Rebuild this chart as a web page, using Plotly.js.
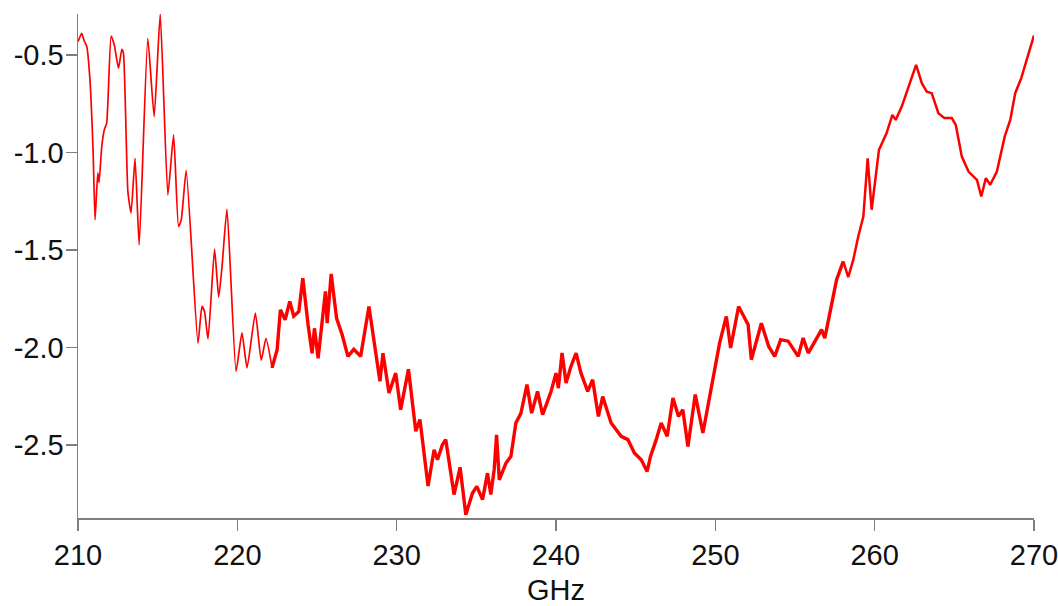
<!DOCTYPE html>
<html>
<head>
<meta charset="utf-8">
<script src="https://cdn.plot.ly/plotly-3.0.1.min.js"></script>
<style>html,body{margin:0;padding:0;background:#fff;}#chart{width:1058px;height:606px;}</style>
</head>
<body>
<div id="chart"></div>
<script>
// Segment 210–222 GHz (smooth, thin part of the trace)
const freqA = [210.0, 210.23, 210.4, 210.55, 210.75, 210.95, 211.07, 211.24, 211.32, 211.49, 211.65, 211.8, 212.08, 212.28, 212.54, 212.75, 212.85, 213.13, 213.33, 213.58, 213.84, 214.38, 214.78, 215.16, 215.64, 216.0, 216.31, 216.48, 216.79, 217.53, 217.78, 217.94, 218.16, 218.57, 218.83, 219.04, 219.35, 219.92, 220.29, 220.61, 221.13, 221.5, 221.8, 222.18];
const valA  = [-0.432, -0.389, -0.43, -0.457, -0.628, -1.0, -1.346, -1.105, -1.155, -0.97, -0.884, -0.85, -0.403, -0.449, -0.568, -0.471, -0.49, -1.20, -1.311, -1.03, -1.474, -0.415, -0.816, -0.29, -1.218, -0.91, -1.38, -1.346, -1.093, -1.978, -1.79, -1.816, -1.957, -1.496, -1.742, -1.585, -1.291, -2.123, -1.926, -2.105, -1.824, -2.066, -1.953, -2.105];

// Segment 222–258 GHz (noisy part)
const freqB = [222.18, 222.5, 222.7, 223.0, 223.29, 223.54, 223.86, 224.11, 224.44, 224.69, 224.84, 225.07, 225.53, 225.64, 225.89, 226.23, 226.58, 226.94, 227.31, 227.74, 228.26, 228.68, 228.95, 229.14, 229.52, 229.94, 230.25, 230.74, 231.2, 231.46, 231.97, 232.35, 232.56, 232.87, 233.08, 233.6, 233.98, 234.34, 234.76, 235.03, 235.39, 235.7, 235.91, 236.12, 236.27, 236.44, 236.86, 237.17, 237.48, 237.8, 238.18, 238.47, 238.84, 239.16, 239.69, 240.0, 240.15, 240.38, 240.63, 240.94, 241.26, 241.57, 241.99, 242.3, 242.66, 242.93, 243.46, 244.09, 244.51, 244.92, 245.35, 245.72, 245.93, 246.29, 246.6, 246.98, 247.34, 247.69, 247.96, 248.28, 248.74, 249.22, 249.75, 250.27, 250.69, 250.96, 251.46, 252.06, 252.26, 252.89, 253.35, 253.73, 254.1, 254.57, 255.2, 255.51, 255.83, 256.24, 256.67, 256.87, 257.61, 258.03];
const valB  = [-2.105, -2.01, -1.807, -1.858, -1.764, -1.84, -1.816, -1.645, -1.884, -2.03, -1.902, -2.056, -1.713, -1.876, -1.623, -1.851, -1.935, -2.046, -2.01, -2.046, -1.79, -2.01, -2.174, -2.03, -2.234, -2.132, -2.32, -2.112, -2.43, -2.37, -2.711, -2.525, -2.576, -2.499, -2.473, -2.755, -2.615, -2.858, -2.747, -2.713, -2.781, -2.645, -2.755, -2.627, -2.448, -2.679, -2.593, -2.559, -2.388, -2.337, -2.191, -2.337, -2.226, -2.345, -2.226, -2.132, -2.209, -2.029, -2.183, -2.097, -2.029, -2.132, -2.226, -2.166, -2.354, -2.252, -2.388, -2.456, -2.473, -2.542, -2.576, -2.636, -2.559, -2.473, -2.388, -2.456, -2.259, -2.354, -2.32, -2.508, -2.242, -2.439, -2.2, -1.977, -1.841, -2.003, -1.79, -1.884, -2.063, -1.876, -1.995, -2.046, -1.96, -1.968, -2.046, -1.952, -2.029, -1.968, -1.909, -1.952, -1.653, -1.559];

// Segment 258–270 GHz
const freqC = [258.03, 258.34, 258.66, 258.97, 259.29, 259.56, 259.81, 260.27, 260.75, 261.11, 261.32, 261.7, 262.6, 262.96, 263.27, 263.58, 264.0, 264.38, 264.84, 265.09, 265.47, 265.89, 266.42, 266.69, 266.98, 267.25, 267.67, 268.16, 268.51, 268.82, 269.2, 269.45, 270.0];
const valC  = [-1.559, -1.64, -1.55, -1.431, -1.329, -1.03, -1.294, -0.987, -0.901, -0.808, -0.833, -0.765, -0.551, -0.645, -0.688, -0.696, -0.799, -0.824, -0.824, -0.859, -1.021, -1.098, -1.141, -1.226, -1.132, -1.166, -1.098, -0.919, -0.833, -0.696, -0.619, -0.551, -0.40];

const xTickVals = [210, 220, 230, 240, 250, 260, 270];
const xTickText = ['210', '220', '230', '240', '250', '260', '270'];
const yTickVals = [-0.5, -1.0, -1.5, -2.0, -2.5];
const yTickText = ['-0.5', '-1.0', '-1.5', '-2.0', '-2.5'];
const xAxisTitle = 'GHz';

const red = 'rgb(255,0,0)';
const traces = [
  {x: freqA, y: valA, type: 'scatter', mode: 'lines', line: {color: red, width: 1.7, shape: 'spline', smoothing: 0.5}, hoverinfo: 'x+y'},
  {x: freqB, y: valB, type: 'scatter', mode: 'lines', line: {color: red, width: 3.4}, hoverinfo: 'x+y'},
  {x: freqC, y: valC, type: 'scatter', mode: 'lines', line: {color: red, width: 2.5}, hoverinfo: 'x+y'}
];

const axisFont = {family: '"Liberation Sans", Arial, sans-serif', size: 29, color: '#111'};
const layout = {
  width: 1058, height: 606,
  margin: {l: 78, r: 24, t: 14, b: 88},
  paper_bgcolor: '#fff', plot_bgcolor: '#fff',
  showlegend: false,
  font: axisFont,
  xaxis: {
    range: [210, 270], tickmode: 'array', tickvals: xTickVals, ticktext: xTickText,
    showgrid: false, zeroline: false, showline: true, linecolor: '#7f7f7f', linewidth: 1.5,
    ticks: 'outside', ticklen: 11, tickwidth: 1.5, tickcolor: '#7f7f7f',
    tickfont: axisFont, ticklabeloverflow: 'allow', automargin: false
  },
  yaxis: {
    range: [-2.875, -0.29], tickmode: 'array', tickvals: yTickVals, ticktext: yTickText,
    showgrid: false, zeroline: false, showline: true, linecolor: '#7f7f7f', linewidth: 1.5,
    ticks: 'outside', ticklen: 11, tickwidth: 1.5, tickcolor: '#7f7f7f',
    tickfont: axisFont, ticklabelstandoff: -4, ticklabeloverflow: 'allow', automargin: false
  },
  annotations: [{
    text: xAxisTitle, xref: 'paper', yref: 'paper', x: 0.5, y: 0,
    xanchor: 'center', yanchor: 'top', yshift: -55, borderpad: 0, showarrow: false, font: axisFont
  }]
};
Plotly.newPlot('chart', traces, layout, {displayModeBar: false, staticPlot: true});
</script>
</body>
</html>
